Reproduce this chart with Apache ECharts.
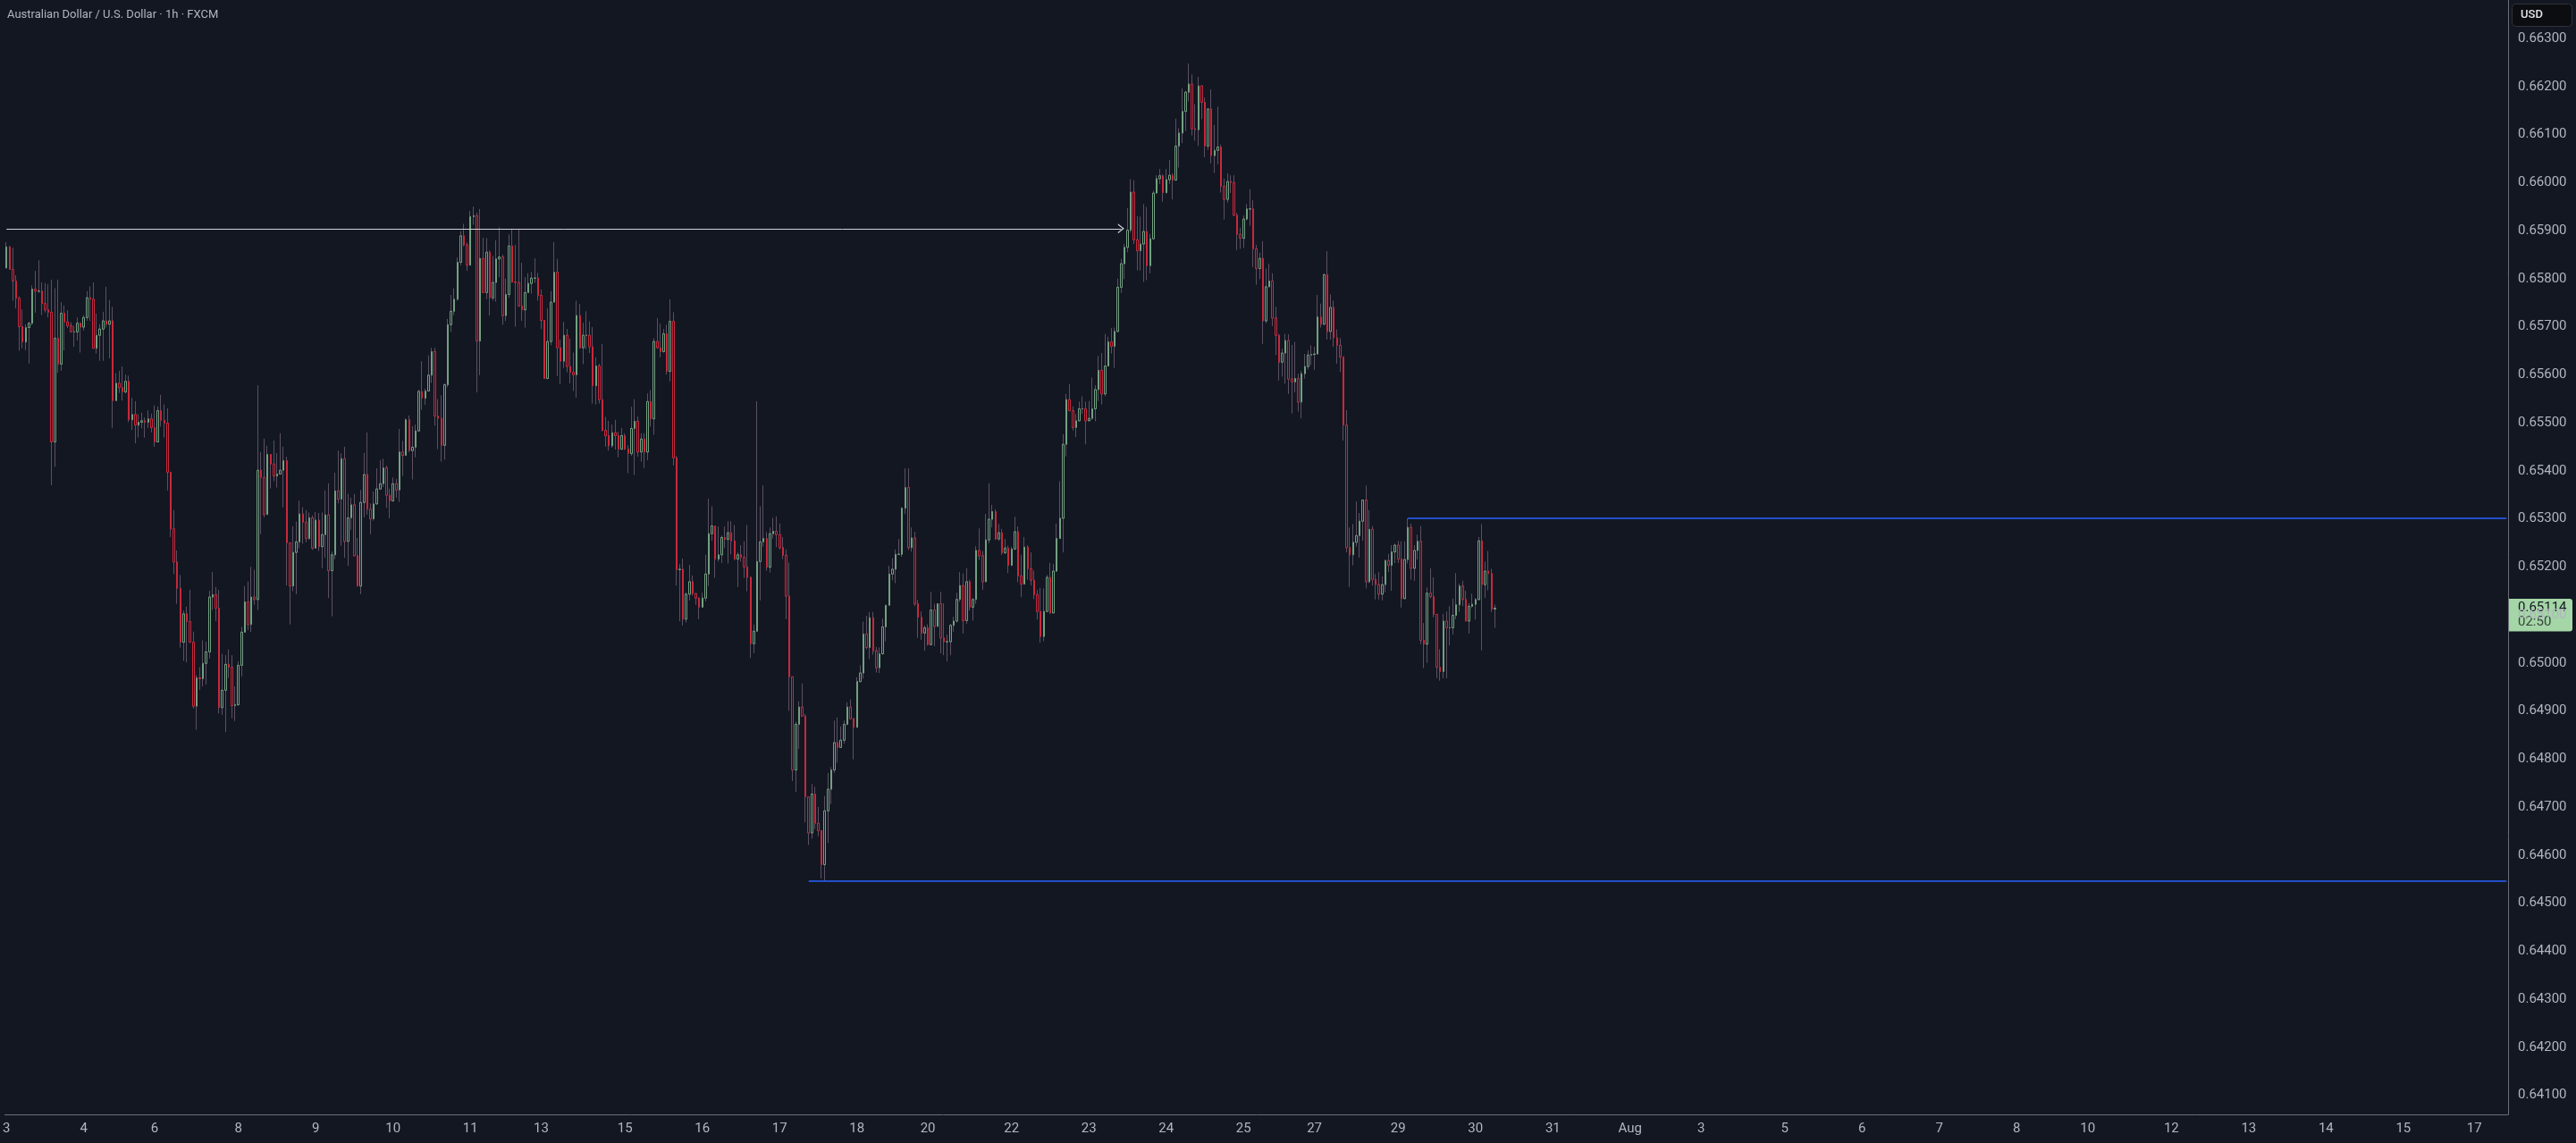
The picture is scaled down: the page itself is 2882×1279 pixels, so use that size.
<!DOCTYPE html>
<html>
<head>
<meta charset="utf-8">
<title>AUDUSD 1h</title>
<script src="https://cdn.jsdelivr.net/npm/echarts@6/dist/echarts.min.js"></script>
<style>
  html, body { margin: 0; padding: 0; background: #131722; }
  #chart { width: 2882px; height: 1279px; }
</style>
</head>
<body>
<div id="chart"></div>
<script>
// hourly candles, from Jul 3 00:00 (open = previous close)
const firstOpen = 0.65822;
const closes = [
  0.65866,0.65819,0.65795,0.65759,0.65700,0.65668,0.65698,0.65707,0.65778,0.65774,0.65774,0.65748,
  0.65735,0.65730,0.65460,0.65676,0.65622,0.65728,0.65710,0.65702,0.65689,0.65689,0.65707,0.65699,
  0.65719,0.65760,0.65757,0.65655,0.65682,0.65695,0.65712,0.65705,0.65712,0.65546,0.65582,0.65573,
  0.65564,0.65586,0.65506,0.65517,0.65495,0.65501,0.65504,0.65501,0.65508,0.65490,0.65460,0.65525,
  0.65505,0.65499,0.65397,0.65279,0.65210,0.65155,0.65043,0.65102,0.65086,0.65043,0.64910,0.64969,
  0.64967,0.64999,0.65023,0.65137,0.65142,0.65114,0.64907,0.64943,0.64997,0.64991,0.64911,0.64913,
  0.64995,0.65064,0.65127,0.65080,0.65137,0.65132,0.65401,0.65386,0.65309,0.65434,0.65414,0.65389,
  0.65393,0.65401,0.65421,0.65250,0.65160,0.65230,0.65252,0.65310,0.65293,0.65259,0.65302,0.65239,
  0.65297,0.65242,0.65267,0.65308,0.65192,0.65225,0.65358,0.65341,0.65425,0.65253,0.65302,0.65329,
  0.65223,0.65160,0.65334,0.65392,0.65320,0.65300,0.65331,0.65362,0.65373,0.65406,0.65349,0.65337,
  0.65373,0.65360,0.65439,0.65432,0.65506,0.65442,0.65449,0.65483,0.65565,0.65551,0.65566,0.65599,
  0.65648,0.65514,0.65509,0.65453,0.65579,0.65704,0.65732,0.65757,0.65834,0.65889,0.65870,0.65828,
  0.65929,0.65931,0.65670,0.65842,0.65771,0.65855,0.65760,0.65792,0.65841,0.65845,0.65723,0.65767,
  0.65868,0.65793,0.65792,0.65743,0.65735,0.65771,0.65790,0.65801,0.65801,0.65765,0.65713,0.65592,
  0.65669,0.65751,0.65813,0.65656,0.65628,0.65682,0.65617,0.65605,0.65600,0.65723,0.65656,0.65682,
  0.65682,0.65658,0.65577,0.65618,0.65548,0.65484,0.65473,0.65452,0.65479,0.65473,0.65445,0.65473,
  0.65445,0.65436,0.65488,0.65503,0.65439,0.65466,0.65439,0.65544,0.65508,0.65669,0.65656,0.65648,
  0.65685,0.65607,0.65711,0.65427,0.65194,0.65195,0.65091,0.65143,0.65169,0.65144,0.65135,0.65116,
  0.65135,0.65185,0.65269,0.65285,0.65216,0.65225,0.65261,0.65257,0.65271,0.65254,0.65216,0.65225,
  0.65220,0.65200,0.65178,0.65040,0.65066,0.65211,0.65252,0.65259,0.65199,0.65269,0.65274,0.65267,
  0.65240,0.65224,0.65139,0.64971,0.64777,0.64872,0.64908,0.64889,0.64721,0.64646,0.64727,0.64666,
  0.64651,0.64580,0.64692,0.64737,0.64777,0.64834,0.64824,0.64839,0.64872,0.64908,0.64884,0.64866,
  0.64961,0.64979,0.65060,0.65032,0.65094,0.65025,0.64990,0.65019,0.65075,0.65120,0.65185,0.65195,
  0.65226,0.65226,0.65322,0.65365,0.65240,0.65260,0.65123,0.65095,0.65062,0.65073,0.65038,0.65110,
  0.65076,0.65123,0.65052,0.65044,0.65044,0.65078,0.65087,0.65132,0.65161,0.65088,0.65169,0.65116,
  0.65132,0.65234,0.65223,0.65169,0.65256,0.65299,0.65315,0.65258,0.65271,0.65229,0.65239,0.65203,
  0.65237,0.65273,0.65181,0.65164,0.65241,0.65196,0.65172,0.65142,0.65107,0.65055,0.65107,0.65178,
  0.65104,0.65191,0.65259,0.65301,0.65455,0.65548,0.65525,0.65490,0.65504,0.65529,0.65529,0.65504,
  0.65509,0.65529,0.65569,0.65609,0.65560,0.65618,0.65668,0.65659,0.65690,0.65782,0.65831,0.65865,
  0.65901,0.65980,0.65881,0.65858,0.65872,0.65898,0.65827,0.65883,0.65978,0.66008,0.66014,0.65979,
  0.66006,0.66015,0.66005,0.66076,0.66103,0.66148,0.66188,0.66205,0.66112,0.66110,0.66201,0.66167,
  0.66076,0.66153,0.66056,0.66067,0.66074,0.65992,0.65965,0.66002,0.66000,0.65932,0.65892,0.65884,
  0.65924,0.65945,0.65945,0.65862,0.65821,0.65842,0.65712,0.65783,0.65795,0.65718,0.65682,0.65626,
  0.65645,0.65671,0.65591,0.65585,0.65592,0.65543,0.65602,0.65617,0.65641,0.65642,0.65643,0.65720,
  0.65705,0.65808,0.65690,0.65740,0.65677,0.65661,0.65637,0.65495,0.65240,0.65225,0.65251,0.65265,
  0.65295,0.65339,0.65169,0.65278,0.65174,0.65163,0.65143,0.65163,0.65213,0.65203,0.65231,0.65245,
  0.65216,0.65134,0.65215,0.65282,0.65197,0.65234,0.65253,0.65047,0.65039,0.65145,0.65138,0.65101,
  0.64991,0.64982,0.65087,0.65073,0.65073,0.65099,0.65121,0.65160,0.65132,0.65087,0.65118,0.65122,
  0.65132,0.65254,0.65163,0.65191,0.65186,0.65112,0.65114
];
const highs = [
  0.65876,0.65868,0.65864,0.65807,0.65763,0.65736,0.65705,0.65710,0.65786,0.65816,0.65838,0.65792,
  0.65791,0.65788,0.65798,0.65780,0.65798,0.65751,0.65744,0.65734,0.65709,0.65702,0.65719,0.65709,
  0.65724,0.65774,0.65784,0.65792,0.65727,0.65705,0.65731,0.65783,0.65755,0.65741,0.65603,0.65608,
  0.65617,0.65600,0.65598,0.65552,0.65545,0.65518,0.65521,0.65511,0.65526,0.65519,0.65536,0.65534,
  0.65558,0.65538,0.65530,0.65397,0.65318,0.65234,0.65183,0.65109,0.65117,0.65152,0.65065,0.64975,
  0.64991,0.65047,0.65044,0.65150,0.65189,0.65158,0.65152,0.65019,0.65016,0.65028,0.65016,0.64951,
  0.65003,0.65075,0.65160,0.65169,0.65200,0.65194,0.65578,0.65439,0.65467,0.65452,0.65434,0.65463,
  0.65437,0.65478,0.65450,0.65429,0.65250,0.65284,0.65294,0.65338,0.65324,0.65318,0.65313,0.65307,
  0.65314,0.65312,0.65313,0.65359,0.65374,0.65232,0.65396,0.65442,0.65436,0.65450,0.65352,0.65344,
  0.65352,0.65260,0.65360,0.65437,0.65480,0.65332,0.65357,0.65405,0.65422,0.65425,0.65411,0.65363,
  0.65386,0.65383,0.65487,0.65462,0.65509,0.65515,0.65493,0.65496,0.65569,0.65628,0.65571,0.65640,
  0.65656,0.65656,0.65549,0.65557,0.65582,0.65716,0.65766,0.65780,0.65844,0.65899,0.65914,0.65875,
  0.65941,0.65950,0.65937,0.65945,0.65885,0.65884,0.65859,0.65847,0.65880,0.65907,0.65850,0.65800,
  0.65892,0.65903,0.65870,0.65903,0.65833,0.65803,0.65811,0.65814,0.65842,0.65812,0.65777,0.65647,
  0.65738,0.65774,0.65876,0.65841,0.65673,0.65710,0.65695,0.65675,0.65646,0.65754,0.65747,0.65708,
  0.65732,0.65711,0.65699,0.65636,0.65623,0.65664,0.65512,0.65504,0.65496,0.65506,0.65481,0.65489,
  0.65478,0.65453,0.65533,0.65549,0.65513,0.65478,0.65478,0.65561,0.65568,0.65676,0.65718,0.65706,
  0.65695,0.65704,0.65757,0.65730,0.65431,0.65206,0.65217,0.65147,0.65204,0.65182,0.65146,0.65137,
  0.65146,0.65225,0.65342,0.65326,0.65285,0.65284,0.65265,0.65284,0.65295,0.65295,0.65287,0.65230,
  0.65245,0.65253,0.65287,0.65180,0.65080,0.65545,0.65326,0.65369,0.65272,0.65282,0.65302,0.65305,
  0.65290,0.65262,0.65236,0.65209,0.64971,0.64878,0.64920,0.64957,0.64894,0.64721,0.64748,0.64742,
  0.64700,0.64651,0.64723,0.64771,0.64783,0.64880,0.64886,0.64868,0.64880,0.64918,0.64924,0.64885,
  0.64970,0.64995,0.65086,0.65098,0.65106,0.65106,0.65033,0.65032,0.65092,0.65120,0.65202,0.65218,
  0.65236,0.65258,0.65324,0.65405,0.65405,0.65282,0.65273,0.65131,0.65107,0.65078,0.65080,0.65148,
  0.65123,0.65124,0.65148,0.65124,0.65059,0.65081,0.65096,0.65146,0.65189,0.65186,0.65197,0.65173,
  0.65135,0.65243,0.65280,0.65233,0.65310,0.65374,0.65329,0.65320,0.65289,0.65279,0.65258,0.65244,
  0.65242,0.65304,0.65284,0.65225,0.65262,0.65245,0.65230,0.65192,0.65152,0.65156,0.65155,0.65183,
  0.65208,0.65206,0.65290,0.65378,0.65476,0.65560,0.65580,0.65534,0.65518,0.65544,0.65555,0.65544,
  0.65545,0.65594,0.65578,0.65639,0.65645,0.65685,0.65679,0.65697,0.65698,0.65800,0.65841,0.65872,
  0.65947,0.66007,0.66005,0.65930,0.65929,0.65955,0.65949,0.65893,0.65983,0.66015,0.66028,0.66017,
  0.66028,0.66047,0.66019,0.66133,0.66113,0.66196,0.66191,0.66248,0.66225,0.66163,0.66220,0.66203,
  0.66177,0.66155,0.66194,0.66120,0.66158,0.66079,0.66008,0.66019,0.66015,0.66015,0.65937,0.65906,
  0.65932,0.65955,0.65986,0.65963,0.65870,0.65854,0.65878,0.65821,0.65831,0.65811,0.65741,0.65685,
  0.65654,0.65685,0.65684,0.65662,0.65668,0.65602,0.65608,0.65643,0.65651,0.65661,0.65658,0.65766,
  0.65748,0.65811,0.65857,0.65767,0.65754,0.65694,0.65676,0.65637,0.65526,0.65282,0.65289,0.65336,
  0.65312,0.65339,0.65369,0.65318,0.65285,0.65185,0.65189,0.65180,0.65215,0.65227,0.65245,0.65248,
  0.65254,0.65253,0.65253,0.65301,0.65290,0.65245,0.65267,0.65285,0.65083,0.65157,0.65197,0.65178,
  0.65101,0.65028,0.65102,0.65107,0.65118,0.65134,0.65187,0.65165,0.65171,0.65150,0.65125,0.65144,
  0.65135,0.65262,0.65289,0.65211,0.65233,0.65196,0.65121
];
const lows = [
  0.65822,0.65819,0.65754,0.65738,0.65650,0.65655,0.65651,0.65623,0.65703,0.65729,0.65770,0.65724,
  0.65729,0.65719,0.65370,0.65408,0.65604,0.65608,0.65650,0.65697,0.65688,0.65658,0.65671,0.65646,
  0.65692,0.65712,0.65712,0.65655,0.65644,0.65629,0.65629,0.65698,0.65634,0.65489,0.65546,0.65562,
  0.65546,0.65561,0.65501,0.65485,0.65457,0.65469,0.65488,0.65469,0.65489,0.65480,0.65450,0.65460,
  0.65492,0.65469,0.65359,0.65262,0.65185,0.65123,0.65032,0.65004,0.65001,0.65042,0.64905,0.64861,
  0.64944,0.64951,0.64955,0.65009,0.65110,0.65087,0.64895,0.64892,0.64856,0.64969,0.64885,0.64879,
  0.64910,0.64972,0.65064,0.65068,0.65064,0.65121,0.65110,0.65268,0.65303,0.65309,0.65363,0.65378,
  0.65365,0.65393,0.65324,0.65161,0.65080,0.65149,0.65143,0.65239,0.65248,0.65251,0.65256,0.65235,
  0.65239,0.65233,0.65197,0.65219,0.65135,0.65097,0.65216,0.65332,0.65244,0.65219,0.65202,0.65277,
  0.65222,0.65160,0.65143,0.65303,0.65309,0.65268,0.65296,0.65329,0.65362,0.65366,0.65323,0.65301,
  0.65337,0.65344,0.65335,0.65389,0.65432,0.65439,0.65382,0.65428,0.65481,0.65527,0.65537,0.65565,
  0.65583,0.65494,0.65445,0.65419,0.65423,0.65574,0.65689,0.65724,0.65754,0.65828,0.65867,0.65816,
  0.65828,0.65912,0.65563,0.65599,0.65771,0.65757,0.65723,0.65754,0.65752,0.65803,0.65704,0.65712,
  0.65760,0.65791,0.65700,0.65741,0.65712,0.65698,0.65771,0.65769,0.65791,0.65754,0.65695,0.65592,
  0.65623,0.65661,0.65751,0.65597,0.65580,0.65614,0.65605,0.65582,0.65566,0.65552,0.65654,0.65622,
  0.65653,0.65645,0.65540,0.65538,0.65540,0.65482,0.65450,0.65442,0.65448,0.65444,0.65428,0.65443,
  0.65443,0.65395,0.65431,0.65391,0.65429,0.65419,0.65406,0.65422,0.65492,0.65475,0.65654,0.65636,
  0.65646,0.65600,0.65586,0.65411,0.65161,0.65087,0.65078,0.65084,0.65130,0.65140,0.65121,0.65091,
  0.65115,0.65128,0.65160,0.65254,0.65177,0.65211,0.65208,0.65239,0.65207,0.65226,0.65214,0.65158,
  0.65211,0.65177,0.65149,0.65010,0.65020,0.65064,0.65130,0.65242,0.65192,0.65188,0.65259,0.65241,
  0.65236,0.65216,0.65091,0.64900,0.64754,0.64731,0.64821,0.64889,0.64668,0.64621,0.64634,0.64654,
  0.64639,0.64551,0.64546,0.64625,0.64706,0.64771,0.64792,0.64824,0.64832,0.64870,0.64882,0.64799,
  0.64865,0.64960,0.64967,0.65028,0.65008,0.65017,0.64980,0.64979,0.65017,0.65045,0.65120,0.65172,
  0.65166,0.65226,0.65221,0.65310,0.65235,0.65232,0.65118,0.65052,0.65048,0.65025,0.65036,0.65036,
  0.65035,0.65083,0.65020,0.65016,0.65003,0.65016,0.65065,0.65084,0.65127,0.65061,0.65081,0.65109,
  0.65088,0.65123,0.65214,0.65152,0.65169,0.65249,0.65282,0.65256,0.65254,0.65225,0.65227,0.65187,
  0.65202,0.65235,0.65168,0.65137,0.65163,0.65173,0.65161,0.65133,0.65090,0.65042,0.65045,0.65106,
  0.65102,0.65104,0.65189,0.65258,0.65230,0.65430,0.65524,0.65484,0.65470,0.65503,0.65518,0.65455,
  0.65504,0.65506,0.65503,0.65545,0.65538,0.65555,0.65617,0.65644,0.65614,0.65689,0.65770,0.65799,
  0.65855,0.65896,0.65872,0.65817,0.65817,0.65793,0.65797,0.65811,0.65881,0.65977,0.65997,0.65960,
  0.65977,0.65997,0.65965,0.66005,0.66031,0.66082,0.66107,0.66169,0.66098,0.66087,0.66076,0.66132,
  0.66053,0.66068,0.66040,0.66020,0.66038,0.65979,0.65923,0.65958,0.65978,0.65930,0.65859,0.65862,
  0.65864,0.65921,0.65910,0.65824,0.65787,0.65799,0.65664,0.65707,0.65782,0.65701,0.65641,0.65588,
  0.65596,0.65581,0.65560,0.65519,0.65563,0.65523,0.65509,0.65592,0.65611,0.65620,0.65610,0.65692,
  0.65698,0.65704,0.65673,0.65673,0.65658,0.65623,0.65606,0.65463,0.65230,0.65158,0.65203,0.65242,
  0.65219,0.65254,0.65155,0.65166,0.65161,0.65132,0.65132,0.65130,0.65147,0.65189,0.65150,0.65208,
  0.65208,0.65115,0.65132,0.65207,0.65173,0.65171,0.65215,0.65039,0.64989,0.65000,0.65134,0.65095,
  0.64968,0.64963,0.64968,0.64968,0.65036,0.65059,0.65091,0.65106,0.65118,0.65087,0.65061,0.65114,
  0.65090,0.65130,0.65026,0.65135,0.65151,0.65106,0.65073
];

const priceTicks = [
  0.641, 0.642, 0.643, 0.644, 0.645, 0.646, 0.647, 0.648, 0.649, 0.650, 0.651, 0.652,
  0.653, 0.654, 0.655, 0.656, 0.657, 0.658, 0.659, 0.660, 0.661, 0.662, 0.663
];
const monthNames = ['Jan','Feb','Mar','Apr','May','Jun','Jul','Aug','Sep','Oct','Nov','Dec'];

// drawn levels: [price, first bar, last bar]
const arrowLevel = [0.65904, 0, 346];
const upperRay = [0.65301, 435, 776];
const lowerRay = [0.64546, 249, 776];
const lastPrice = 0.65114;
const countdown = '02:50';

const totalSlots = 777;
const upColor = '#73a080';
const downColor = '#c8283c';
const wickColor = '#5b5063';
const bg = '#131722';
const textColor = '#b2b5be';
const axisColor = '#6b6e78';
const rayColor = '#2962ff';
const font = 'Roboto, "Noto Sans", sans-serif';

// FX session hours (closed Fri 22:00 to Sun 22:00), labels at day starts
const slots = [];
const slotLabels = [];
let t = Date.UTC(2025, 6, 3, 0);
while (slots.length < totalSlots) {
  const d = new Date(t);
  const wd = d.getUTCDay();
  const h = d.getUTCHours();
  const closed = (wd === 5 && h >= 22) || wd === 6 || (wd === 0 && h < 22);
  if (!closed) {
    slots.push(d.toISOString().slice(0, 13));
    let lab = '';
    if ((wd === 0 && h === 22) || (h === 0 && wd !== 1)) {
      lab = d.getUTCDate() === 1 ? monthNames[d.getUTCMonth()] : String(d.getUTCDate());
    }
    slotLabels.push(lab);
  }
  t += 3600000;
}

const wickData = [];
const bodyData = [];
closes.forEach((c, i) => {
  const o = i === 0 ? firstOpen : closes[i - 1];
  wickData.push([o, c, Math.min(lows[i], o, c), Math.max(highs[i], o, c)]);
  bodyData.push([o, c, Math.min(o, c), Math.max(o, c)]);
});

const arrowPath = 'path://M0,7L5.5,0L11,7L9.5,7L5.5,1.9L1.5,7Z';

const ray = (lvl, color, width, endSymbol) => [
  { coord: [lvl[1], lvl[0]], symbol: 'none', lineStyle: { color: color, width: width, type: 'solid' } },
  { coord: [lvl[2], lvl[0]], symbol: endSymbol || 'none', symbolSize: [11, 7] }
];

const chart = echarts.init(document.getElementById('chart'));

const option = {
  backgroundColor: bg,
  animation: false,
  textStyle: { fontFamily: font },
  grid: { left: 1, right: 76, top: 0, bottom: 32 },
  xAxis: {
    type: 'category',
    data: slots,
    boundaryGap: true,
    axisLine: { lineStyle: { color: axisColor, width: 1 } },
    axisTick: { show: false },
    splitLine: { show: false },
    axisLabel: {
      interval: (idx) => slotLabels[idx] !== '',
      formatter: (val, idx) => slotLabels[idx],
      color: textColor,
      fontSize: 15,
      fontFamily: font,
      margin: 9
    }
  },
  yAxis: {
    type: 'value',
    position: 'right',
    min: 0.6406,
    max: 0.6638,
    axisLine: { show: true, lineStyle: { color: axisColor, width: 1 } },
    axisTick: { show: false },
    splitLine: { show: false },
    axisLabel: {
      customValues: priceTicks,
      formatter: (v) => v.toFixed(5),
      color: textColor,
      fontSize: 15,
      fontFamily: font,
      margin: 11
    }
  },
  series: [
    {
      name: 'wicks',
      type: 'candlestick',
      data: wickData,
      barWidth: 2,
      large: false,
      silent: true,
      z: 2,
      itemStyle: {
        color: 'rgba(0,0,0,0)', color0: 'rgba(0,0,0,0)',
        borderColor: wickColor, borderColor0: wickColor, borderWidth: 1
      }
    },
    {
      name: 'AUDUSD',
      type: 'candlestick',
      data: bodyData,
      barWidth: 2,
      large: false,
      silent: true,
      z: 3,
      itemStyle: {
        color: bg, color0: bg,
        borderColor: upColor, borderColor0: downColor, borderWidth: 1
      },
      markLine: {
        silent: true,
        animation: false,
        symbol: ['none', 'none'],
        label: { show: false },
        emphasis: { disabled: true },
        data: [
          ray(arrowLevel, '#d1d4dc', 1, arrowPath),
          ray(upperRay, rayColor, 1.5),
          ray(lowerRay, rayColor, 1.5)
        ]
      }
    }
  ]
};

chart.setOption(option);

const yLast = chart.convertToPixel({ yAxisIndex: 0 }, lastPrice);

chart.setOption({
  graphic: [
    {
      type: 'text', x: 8, y: 17,
      style: { text: 'Australian Dollar / U.S. Dollar · 1h · FXCM', fill: textColor, font: '13px ' + font, verticalAlign: 'middle' }
    },
    {
      type: 'rect', shape: { x: 2810.5, y: 4.5, width: 67, height: 25, r: 4 },
      style: { fill: '#0c0d10', stroke: '#2f323c', lineWidth: 1 }
    },
    {
      type: 'text', x: 2820, y: 17,
      style: { text: 'USD', fill: '#e1e3ea', font: '500 13px ' + font, verticalAlign: 'middle' }
    },
    {
      type: 'rect', shape: { x: 2807, y: yLast - 10.5, width: 71, height: 36.5, r: [0, 3, 3, 0] },
      style: { fill: '#a5d6a7' }
    },
    {
      type: 'text', x: 2817, y: yLast,
      style: { text: lastPrice.toFixed(5), fill: '#131722', font: '15px ' + font, verticalAlign: 'middle' }
    },
    {
      type: 'text', x: 2817, y: yLast + 15.5,
      style: { text: countdown, fill: '#35453a', font: '15px ' + font, verticalAlign: 'middle' }
    }
  ]
});

window.addEventListener('resize', () => chart.resize());
</script>
</body>
</html>
